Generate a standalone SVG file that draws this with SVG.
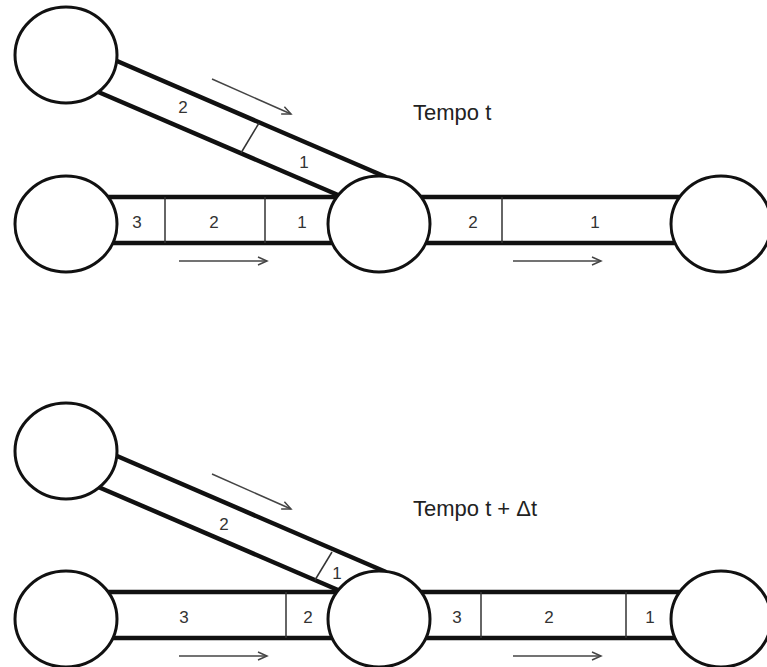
<svg xmlns="http://www.w3.org/2000/svg" width="767" height="667" viewBox="0 0 767 667">
<style>
.pipe{stroke:#111;stroke-width:4.5;fill:none;stroke-linecap:butt}
.div{stroke:#333;stroke-width:1.5;fill:none}
.node{fill:#fff;stroke:#111;stroke-width:3}
.flow{stroke:#444;stroke-width:1.5;fill:none;marker-end:url(#ah)}
.lbl{font-family:"Liberation Sans",Arial,sans-serif;font-size:17px;fill:#333;text-anchor:middle}
.title{font-family:"Liberation Sans",Arial,sans-serif;font-size:22px;fill:#222}
</style>
<defs>
<marker id="ah" markerWidth="12" markerHeight="10" refX="10" refY="5" orient="auto" markerUnits="userSpaceOnUse">
<path d="M1,1 L10,5 L1,9" fill="none" stroke="#444" stroke-width="1.5"/>
</marker>
</defs>
<g id="connectors">
<!-- top panel -->
<line class="pipe" x1="110" y1="58" x2="386" y2="177"/>
<line class="pipe" x1="96" y1="91" x2="338" y2="195"/>
<line class="pipe" x1="100" y1="197" x2="340" y2="197"/>
<line class="pipe" x1="100" y1="243" x2="340" y2="243"/>
<line class="pipe" x1="420" y1="197" x2="680" y2="197"/>
<line class="pipe" x1="420" y1="243" x2="680" y2="243"/>
<line class="div" x1="259" y1="123" x2="241" y2="153"/>
<line class="div" x1="165" y1="197" x2="165" y2="243"/>
<line class="div" x1="265" y1="197" x2="265" y2="243"/>
<line class="div" x1="502" y1="197" x2="502" y2="243"/>
<line class="flow" x1="212" y1="79" x2="291" y2="114"/>
<line class="flow" x1="179" y1="261" x2="267" y2="261"/>
<line class="flow" x1="513" y1="261" x2="601" y2="261"/>
<!-- bottom panel -->
<line class="pipe" x1="110" y1="453" x2="386" y2="572"/>
<line class="pipe" x1="96" y1="486" x2="338" y2="590"/>
<line class="pipe" x1="100" y1="592" x2="340" y2="592"/>
<line class="pipe" x1="100" y1="638" x2="340" y2="638"/>
<line class="pipe" x1="420" y1="592" x2="680" y2="592"/>
<line class="pipe" x1="420" y1="638" x2="680" y2="638"/>
<line class="div" x1="332" y1="552" x2="315" y2="580"/>
<line class="div" x1="286" y1="592" x2="286" y2="638"/>
<line class="div" x1="481" y1="592" x2="481" y2="638"/>
<line class="div" x1="626" y1="592" x2="626" y2="638"/>
<line class="flow" x1="212" y1="474" x2="291" y2="509"/>
<line class="flow" x1="179" y1="656" x2="267" y2="656"/>
<line class="flow" x1="513" y1="656" x2="601" y2="656"/>
</g>
<g id="labels">
<text class="lbl" x="183" y="113">2</text>
<text class="lbl" x="304" y="168">1</text>
<text class="lbl" x="137" y="228">3</text>
<text class="lbl" x="214" y="228">2</text>
<text class="lbl" x="302" y="228">1</text>
<text class="lbl" x="473" y="228">2</text>
<text class="lbl" x="595" y="228">1</text>
<text class="title" x="413" y="120">Tempo t</text>
<text class="lbl" x="224" y="530">2</text>
<text class="lbl" x="337" y="579">1</text>
<text class="lbl" x="184" y="623">3</text>
<text class="lbl" x="308" y="623">2</text>
<text class="lbl" x="457" y="623">3</text>
<text class="lbl" x="549" y="623">2</text>
<text class="lbl" x="650" y="623">1</text>
<text class="title" x="413" y="516">Tempo t + Δt</text>
</g>
<g id="n1"><ellipse class="node" cx="66" cy="55" rx="51" ry="48"/></g>
<g id="n2"><ellipse class="node" cx="66" cy="224" rx="51" ry="48"/></g>
<g id="n3"><ellipse class="node" cx="379" cy="224" rx="51" ry="48"/></g>
<g id="n4"><ellipse class="node" cx="721" cy="224" rx="50" ry="48"/></g>
<g id="n5"><ellipse class="node" cx="66" cy="451" rx="51" ry="48"/></g>
<g id="n6"><ellipse class="node" cx="66" cy="619" rx="51" ry="48"/></g>
<g id="n7"><ellipse class="node" cx="379" cy="619" rx="51" ry="48"/></g>
<g id="n8"><ellipse class="node" cx="721" cy="619" rx="50" ry="48"/></g>
</svg>
